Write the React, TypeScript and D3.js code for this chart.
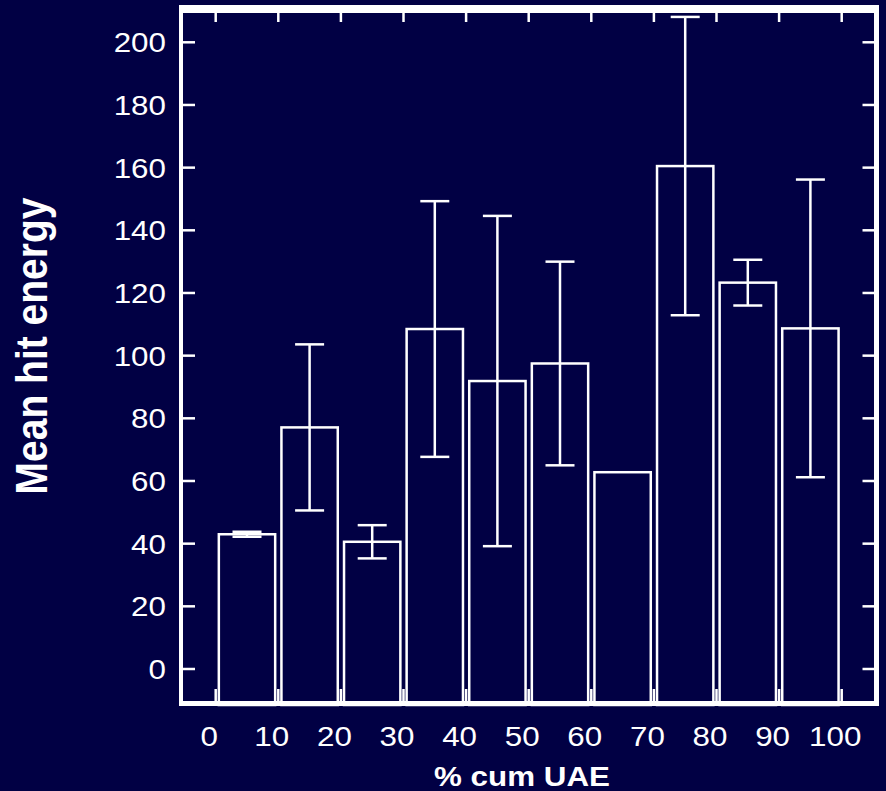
import React from "react";
import * as d3 from "d3";

const binStarts = [0, 10, 20, 30, 40, 50, 60, 70, 80, 90];
const meanValues = [43, 77.1, 40.6, 108.5, 91.9, 97.5, 62.8, 160.5, 123.3, 108.7];
const errValues = [0.8, 26.5, 5.3, 40.8, 52.7, 32.5, 0, 47.6, 7.3, 47.5];
const xTicks = [0, 10, 20, 30, 40, 50, 60, 70, 80, 90, 100];
const yTicks = [0, 20, 40, 60, 80, 100, 120, 140, 160, 180, 200];
const xTitle = "% cum UAE";
const yTitle = "Mean hit energy";

const W = 886;
const H = 791;
const BG = "#010044";
const FG = "#ffffff";
const SX = 1.12; // horizontal stretch of the text

export default function App() {
  const x = d3.scaleLinear().domain([0, 100]).range([215.7, 841.7]);
  const y = d3.scaleLinear().domain([0, 200]).range([669, 42.3]);

  const left = 181;
  const right = 876.5;
  const top = 9;
  const bottom = 703.5;
  const plotBottom = 701;
  const capHalf = 14.5;
  const font = "'Liberation Sans', Arial, Helvetica, sans-serif";

  return (
    <svg
      width={W}
      height={H}
      style={{ position: "absolute", left: 0, top: 0, display: "block" }}
      fontFamily={font}
    >
      <rect x={0} y={0} width={W} height={H} fill={BG} />

      {/* bars */}
      {binStarts.map((b, i) => {
        const x0 = x(b + 0.5);
        const x1 = x(b + 9.5);
        const yt = y(meanValues[i]);
        return (
          <rect
            key={"bar" + i}
            x={x0}
            y={yt}
            width={x1 - x0}
            height={plotBottom + 4 - yt}
            fill="none"
            stroke={FG}
            strokeWidth={2.5}
          />
        );
      })}

      {/* error bars */}
      {binStarts.map((b, i) => {
        if (!errValues[i]) return null;
        const cx = x(b + 5);
        const yHi = y(meanValues[i] + errValues[i]);
        const yLo = y(meanValues[i] - errValues[i]);
        return (
          <g key={"err" + i} stroke={FG} strokeWidth={2.5}>
            <line x1={cx} x2={cx} y1={yHi} y2={yLo} />
            <line x1={cx - capHalf} x2={cx + capHalf} y1={yHi} y2={yHi} />
            <line x1={cx - capHalf} x2={cx + capHalf} y1={yLo} y2={yLo} />
          </g>
        );
      })}

      {/* x ticks top & bottom */}
      {xTicks.map((t) => (
        <g key={"xt" + t} stroke={FG} strokeWidth={2.5}>
          <line x1={x(t)} x2={x(t)} y1={top} y2={22} />
          <line x1={x(t)} x2={x(t)} y1={plotBottom} y2={689} />
        </g>
      ))}

      {/* y ticks left & right */}
      {yTicks.map((t) => (
        <g key={"yt" + t} stroke={FG} strokeWidth={2.5}>
          <line x1={left} x2={195} y1={y(t)} y2={y(t)} />
          <line x1={right} x2={862.5} y1={y(t)} y2={y(t)} />
        </g>
      ))}

      {/* frame */}
      <line x1={left} x2={left} y1={5} y2={706} stroke={FG} strokeWidth={4} />
      <line x1={right} x2={right} y1={5} y2={706} stroke={FG} strokeWidth={5} />
      <line x1={179} x2={879} y1={top} y2={top} stroke={FG} strokeWidth={8} />
      <line x1={179} x2={879} y1={bottom} y2={bottom} stroke={FG} strokeWidth={5} />

      {/* y tick labels */}
      {yTicks.map((t) => (
        <text
          key={"yl" + t}
          transform={`translate(166,${y(t) + 10}) scale(${SX},1)`}
          textAnchor="end"
          fontSize={28}
          fill={FG}
        >
          {t}
        </text>
      ))}

      {/* x tick labels */}
      {xTicks.map((t) => (
        <text
          key={"xl" + t}
          transform={`translate(${x(t) - 6.5},746) scale(${SX},1)`}
          textAnchor="middle"
          fontSize={28}
          fill={FG}
        >
          {t}
        </text>
      ))}

      {/* axis titles */}
      <text
        transform={`translate(522,786) scale(${SX},1)`}
        textAnchor="middle"
        fontSize={28}
        fontWeight="bold"
        fill={FG}
      >
        {xTitle}
      </text>
      <text
        transform={`translate(47,346) scale(${SX},1) rotate(-90)`}
        textAnchor="middle"
        fontSize={39}
        fontWeight="bold"
        fill={FG}
      >
        {yTitle}
      </text>
    </svg>
  );
}
